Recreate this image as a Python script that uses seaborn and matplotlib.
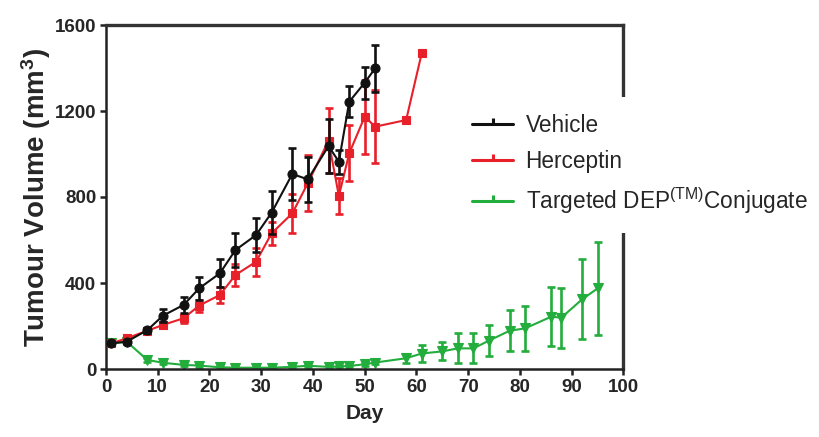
import numpy as np
import pandas as pd
import matplotlib
matplotlib.use("Agg")
import matplotlib.pyplot as plt
from matplotlib.lines import Line2D
import seaborn as sns

# ---------------- data ----------------
days_v = [1, 4, 8, 11, 15, 18, 22, 25, 29, 32, 36, 39, 43, 45, 47, 50, 52]
vehicle = [119, 127, 181, 248, 298, 375, 445, 553, 623, 727, 907, 882, 1037, 964, 1243, 1332, 1398]
vehicle_err = [8, 10, 12, 30, 38, 55, 65, 80, 78, 100, 122, 105, 125, 55, 73, 74, 110]

days_h = [1, 4, 8, 11, 15, 18, 22, 25, 29, 32, 36, 39, 43, 45, 47, 50, 52, 58, 61]
herceptin = [119, 143, 178, 205, 236, 295, 344, 437, 499, 631, 724, 864, 1062, 805, 1003, 1174, 1127, 1158, 1468]
herceptin_err = [8, 10, 12, 15, 20, 28, 36, 50, 65, 55, 90, 130, 150, 85, 130, 172, 170, 0, 0]

days_t = [1, 4, 8, 11, 15, 18, 22, 25, 29, 32, 36, 39, 43, 45, 47, 50, 52, 58, 61, 65, 68, 71, 74, 78, 81, 86, 88, 92, 95]
targeted = [119, 127, 42, 29, 19, 16, 8, 6, 6, 6, 10, 15, 10, 12, 14, 22, 30, 50, 72, 82, 96, 96, 132, 178, 189, 243, 239, 324, 375]
targeted_err = [5, 5, 8, 6, 5, 5, 4, 4, 4, 4, 4, 5, 4, 4, 5, 6, 8, 20, 40, 42, 70, 70, 73, 96, 104, 137, 140, 186, 217]

series_names = ["Vehicle", "Herceptin", "Targeted DEP$^{\\mathrm{(TM)}}$Conjugate"]
x_ticks = [0, 10, 20, 30, 40, 50, 60, 70, 80, 90, 100]
y_ticks = [0, 400, 800, 1200, 1600]

# ---------------- style ----------------
sns.set_style("ticks")
plt.rcParams["font.family"] = ["Liberation Sans", "DejaVu Sans"]
plt.rcParams["mathtext.fontset"] = "custom"
plt.rcParams["mathtext.rm"] = "Liberation Sans"
plt.rcParams["mathtext.bf"] = "Liberation Sans:bold"
plt.rcParams["mathtext.it"] = "Liberation Sans:italic"

C_BLACK = "#111111"
C_RED = "#e8202a"
C_GREEN = "#22ad3c"

fig = plt.figure(figsize=(8.2, 4.37), dpi=100)
ax = fig.add_axes([106 / 820, 1 - 369 / 437, (623.5 - 106) / 820, (369 - 25) / 437])

specs = [
    (days_t, targeted, targeted_err, C_GREEN, "v", 6.5),
    (days_h, herceptin, herceptin_err, C_RED, "s", 6.0),
    (days_v, vehicle, vehicle_err, C_BLACK, "o", 6.5),
]

for i, (d, v, e, c, m, ms) in enumerate(specs):
    df = pd.DataFrame({"day": d, "vol": v, "err": e})
    sub = df[df["err"] > 0]
    ax.errorbar(sub["day"], sub["vol"], yerr=sub["err"], fmt="none", ecolor=c,
                elinewidth=1.9, capsize=3.2, capthick=1.9, zorder=2 + i)
    sns.lineplot(data=df, x="day", y="vol", color=c, marker=m, markersize=ms,
                 markeredgecolor=c, markeredgewidth=0.8, linewidth=1.5,
                 ax=ax, zorder=2 + i, legend=False, errorbar=None)

ax.set_xlim(0, 100)
ax.set_ylim(0, 1600)
ax.set_xticks(x_ticks)
ax.set_yticks(y_ticks)
ax.set_xticklabels([str(t) for t in x_ticks], fontsize=13.5, fontweight="bold")
ax.set_yticklabels([str(t) for t in y_ticks], fontsize=13.5, fontweight="bold")
ax.tick_params(axis="both", direction="out", length=4, width=1.8, color="#222222", pad=3)

ax.set_xlabel("Day", fontsize=15, fontweight="bold", labelpad=6)
ax.set_ylabel("Tumour Volume (mm$^\\mathbf{3}$)", fontsize=20, fontweight="bold", labelpad=1)

for side in ["left", "bottom"]:
    ax.spines[side].set_linewidth(1.8)
    ax.spines[side].set_color("#222222")
for side in ["top", "right"]:
    ax.spines[side].set_visible(True)
    ax.spines[side].set_linewidth(2.4)
    ax.spines[side].set_color("#333333")

handles = [
    Line2D([0], [0], color=c, lw=2.2, marker=2, markersize=4, markeredgewidth=2.2)
    for c in (C_BLACK, C_RED, C_GREEN)
]
leg = fig.legend(handles, series_names, loc="center left",
                 bbox_to_anchor=(444 / 820, 1 - 165 / 437),
                 fontsize=16.3, frameon=True, framealpha=1.0, facecolor="white",
                 edgecolor="none", handlelength=1.8, handletextpad=0.55,
                 labelspacing=0.55, borderpad=0.75, fancybox=False)
leg.set_zorder(10)

fig.savefig("out.png", dpi=100)
